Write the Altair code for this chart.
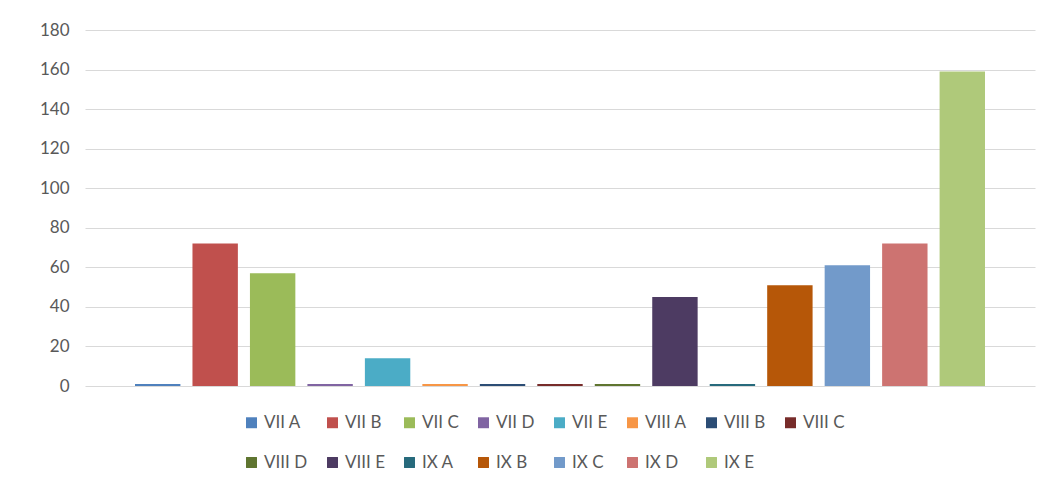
import altair as alt
import pandas as pd

classes = ["VII A", "VII B", "VII C", "VII D", "VII E",
           "VIII A", "VIII B", "VIII C", "VIII D", "VIII E",
           "IX A", "IX B", "IX C", "IX D", "IX E"]
values = [1, 72, 57, 1, 14, 1, 1, 1, 1, 45, 1, 51, 61, 72, 159]
colors = ["#4F81BD", "#C0504D", "#9BBB59", "#8064A2", "#4BACC6",
          "#F79646", "#2C4D75", "#772C2A", "#5F7530", "#4D3B62",
          "#276A7C", "#B65708", "#729ACA", "#CD7371", "#AFC97A"]
y_ticks = [0, 20, 40, 60, 80, 100, 120, 140, 160, 180]

df = pd.DataFrame({"kelas": classes, "nilai": values})

FONT = "Lato"

chart = alt.Chart(df).mark_bar().encode(
    x=alt.X("kelas:N", sort=classes,
            scale=alt.Scale(paddingInner=0.21, paddingOuter=0.87),
            axis=None),
    y=alt.Y("nilai:Q",
            scale=alt.Scale(domain=[0, 180], nice=False),
            axis=alt.Axis(values=y_ticks, title=None, domain=False, ticks=False,
                          labelPadding=16, labelFontSize=17, labelColor="#595959",
                          labelFont=FONT, gridColor="#D9D9D9", gridWidth=1.2)),
    color=alt.Color("kelas:N", sort=classes,
                    scale=alt.Scale(domain=classes, range=colors),
                    legend=alt.Legend(title=None, orient="none", legendX=158, legendY=384,
                                      direction="horizontal", columns=8,
                                      symbolType="square", symbolSize=120,
                                      symbolStrokeWidth=0,
                                      labelFontSize=17, labelColor="#595959",
                                      labelFont=FONT, columnPadding=16,
                                      rowPadding=22, labelOffset=4)),
).properties(
    width=950, height=356,
    background="white",
    autosize=alt.AutoSizeParams(type="none"),
    padding={"left": 85, "top": 30, "right": 16, "bottom": 95},
).configure_view(stroke=None, strokeWidth=0)

chart.save("out.html", embed_options={"renderer": "svg", "actions": False})
